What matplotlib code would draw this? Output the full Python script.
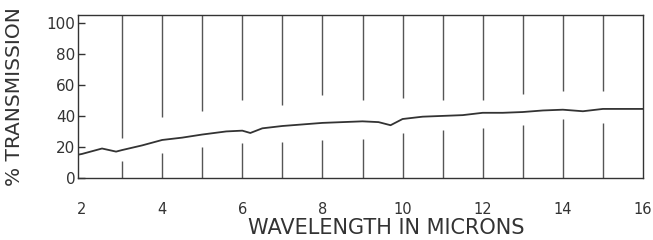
import matplotlib
matplotlib.use("Agg")
from matplotlib import pyplot as plt

# transmission curve
wl = [1.9, 2.0, 2.5, 2.85, 3.0, 3.5, 4.0, 4.5, 5.0, 5.6, 6.0, 6.2, 6.5, 7.0, 7.5,
      8.0, 8.5, 9.0, 9.4, 9.7, 10.0, 10.5, 11.0, 11.5, 12.0, 12.5, 13.0, 13.5,
      14.0, 14.5, 15.0, 15.5, 16.0]
trans = [15, 15.5, 19, 17, 18, 21, 24.5, 26, 28, 30, 30.5, 29, 32, 33.5, 34.5,
         35.5, 36, 36.5, 36, 34, 38, 39.5, 40, 40.5, 42, 42, 42.5, 43.5,
         44, 43, 44.5, 44.5, 44.5]

# broken vertical rulings at each micron
rule_x = [3, 4, 5, 6, 7, 8, 9, 10, 11, 12, 13, 14, 15]
rule_top_end = [26, 39, 43, 50, 47, 53.5, 50, 51.5, 50, 50, 54, 56, 56]
rule_bottom_end = [11, 16, 20, 22.5, 23, 24.5, 25, 29, 31, 32, 34, 38, 35.5]

xticks = [2, 4, 6, 8, 10, 12, 14, 16]
yticks = [0, 20, 40, 60, 80, 100]

ink = "#333333"
plt.rcParams["font.family"] = ["DejaVu Sans"]

fig = plt.figure(figsize=(6.53, 2.4), dpi=100)
ax = fig.add_axes([78 / 653, 62 / 240, 565 / 653, 163 / 240])

ax.plot(wl, trans, color=ink, lw=1.3)
ax.vlines(rule_x, rule_top_end, 105, color="#555555", lw=1.0)
ax.vlines(rule_x, 0, rule_bottom_end, color="#555555", lw=1.0)

ax.set_xlim(1.9, 16.0)
ax.set_ylim(0, 105)
ax.set_xticks(xticks)
ax.set_yticks(yticks)
ax.tick_params(axis="x", length=0, pad=17, labelsize=10.5, colors=ink)
ax.tick_params(axis="y", direction="in", length=5, width=1, pad=2,
               labelsize=11, colors=ink)
for s in ax.spines.values():
    s.set_color(ink)
    s.set_linewidth(1.0)

fig.text(15 / 653, 1 - 97 / 240, "% TRANSMISSION", rotation=90, ha="center",
         va="center", fontsize=14.5, color=ink)
fig.text(386 / 653, 1 - 228 / 240, "WAVELENGTH IN MICRONS", ha="center",
         va="center", fontsize=15, color=ink)

fig.savefig("out.png", dpi=100)
